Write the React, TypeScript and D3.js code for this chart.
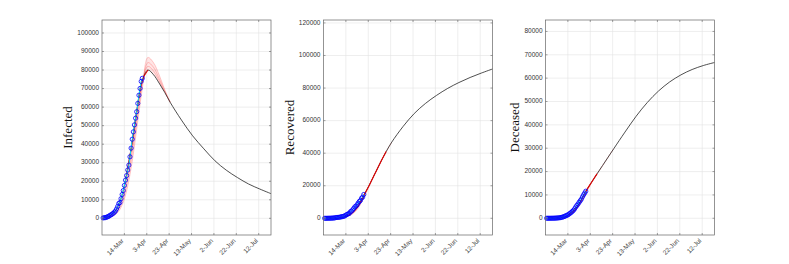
import React from "react";
import * as d3 from "d3";

// observed daily values, starting 24-Feb
const obsStart = "2020-02-24";
const infectedObs = [
  221, 311, 385, 588, 821, 1049, 1577, 1835, 2263, 2706, 3296, 3916, 5061, 6387, 7985, 8514, 10590, 12839,
  14955, 17750, 20603, 23073, 26062, 28710, 33190, 37860, 42681, 46638, 50418, 54030, 57521, 62013, 66414,
  70065, 73880, 75528,
];
const recoveredObs = [
  1, 1, 3, 45, 46, 50, 83, 149, 160, 276, 414, 523, 589, 622, 724, 1004, 1045, 1258, 1439, 1966, 2335, 2749,
  2941, 4025, 4440, 5129, 6072, 7024, 7432, 8326, 9362, 10361, 10950, 12384, 13030, 14620,
];
const deceasedObs = [
  7, 10, 12, 17, 21, 29, 34, 52, 79, 107, 148, 197, 233, 366, 463, 631, 827, 1016, 1266, 1441, 1809, 2158,
  2503, 2978, 3405, 4032, 4825, 5476, 6077, 6820, 7503, 8165, 9134, 10023, 10779, 11591,
];

// model curves
const modelDates = [
  "2020-02-24", "2020-02-29", "2020-03-05", "2020-03-10", "2020-03-15", "2020-03-20", "2020-03-25",
  "2020-03-30", "2020-04-04", "2020-04-09", "2020-04-14", "2020-04-19", "2020-04-24", "2020-05-04",
  "2020-05-14", "2020-05-24", "2020-06-03", "2020-06-13", "2020-06-23", "2020-07-03", "2020-07-13",
  "2020-07-23",
];
const infectedModel = [
  200, 1100, 3300, 9000, 20500, 37500, 57500, 74500, 80000, 77500, 73000, 68000, 62500, 53000, 44500, 37500,
  31000, 26000, 22000, 18500, 15800, 13300,
];
const recoveredModel = [
  0, 50, 200, 600, 1500, 3500, 7500, 14000, 20500, 27500, 34500, 41000, 46800, 56300, 64300, 70500, 75500,
  79800, 83400, 86500, 89200, 91700,
];
const deceasedModel = [
  5, 30, 120, 500, 1500, 3600, 7000, 11500, 15300, 19000, 22600, 26200, 29800, 36900, 43700, 49600, 54500,
  58400, 61400, 63700, 65400, 66700,
];

// uncertainty runs, 24-Feb .. 24-Apr
const ensDates = modelDates.slice(0, 13);
const infectedEnsA = [100, 500, 1600, 4800, 12500, 27000, 48000, 70000, 86800, 84000, 77500, 69500, 62500];
const infectedEnsB = [150, 700, 2200, 6300, 15500, 31500, 52500, 72500, 84000, 81500, 75500, 68800, 62500];
const infectedEnsC = [180, 900, 2800, 7600, 18000, 34500, 55000, 73500, 82000, 79500, 74200, 68300, 62500];
const recoveredEnsLow = [0, 30, 150, 450, 1100, 2700, 6200, 12500, 19800, 27000, 34200, 40800, 46800];
const deceasedEnsLow = [3, 20, 80, 350, 1100, 2900, 6000, 10500, 15000, 18800, 22500, 26200, 29800];

const xTickLabels = ["14-Mar", "3-Apr", "23-Apr", "13-May", "2-Jun", "22-Jun", "12-Jul"];
const infectedTicks = [0, 10000, 20000, 30000, 40000, 50000, 60000, 70000, 80000, 90000, 100000];
const recoveredTicks = [0, 20000, 40000, 60000, 80000, 100000, 120000];
const deceasedTicks = [0, 10000, 20000, 30000, 40000, 50000, 60000, 70000, 80000];

const parseDay = d3.timeParse("%Y-%m-%d");
const parseTick = d3.timeParse("%d-%b-%Y");
const xStart = parseDay("2020-02-23")!;
const xEnd = parseDay("2020-07-23")!;
const fitFrom = parseDay("2020-03-15")!;

const W = 789;
const H = 264;
const top = 20;
const bottom = 235;
const plotW = 169;

type Pt = [Date, number];
const zip = (dates: string[], vals: number[]): Pt[] => vals.map((v, i) => [parseDay(dates[i])!, v]);
const obsPts = (vals: number[]): Pt[] => vals.map((v, i) => [d3.timeDay.offset(parseDay(obsStart)!, i), v]);

function Panel({ left, label, labelX, yDomain, yTicks, model, obs, ens, fitTo }: any) {
  const right = left + plotW;
  const x = d3.scaleTime().domain([xStart, xEnd]).range([left, right]);
  const y = d3.scaleLinear().domain(yDomain).range([bottom, top]);
  const xTicks = xTickLabels.map((t) => parseTick(t + "-2020")!);
  const line = d3
    .line<Pt>()
    .x((d) => x(d[0]))
    .y((d) => y(d[1]))
    .curve(d3.curveCatmullRom.alpha(0.5));
  const straight = d3
    .line<Pt>()
    .x((d) => x(d[0]))
    .y((d) => y(d[1]));
  const modelPts = zip(modelDates, model);
  const fitEnd = parseDay(fitTo)!;
  const fitPts = modelPts.filter((d) => d[0] >= fitFrom && d[0] <= fitEnd);
  const obsData = obsPts(obs);
  const ensLines: Pt[][] = ens.map((e: number[]) => zip(ensDates, e));
  const band = d3
    .area<[Pt, Pt]>()
    .x((d) => x(d[0][0]))
    .y0((d) => y(d[0][1]))
    .y1((d) => y(d[1][1]))
    .curve(d3.curveMonotoneX);
  const bandPts: [Pt, Pt][] = ensLines[0].map((p, i) => [p, modelPts[i]]);
  const fmt = d3.timeFormat("%-d-%b");

  return (
    <g>
      {xTicks.map((t, i) => (
        <line key={"gx" + i} x1={x(t)} x2={x(t)} y1={top} y2={bottom} stroke="#e2e2e2" strokeWidth={0.6} />
      ))}
      {yTicks.map((t: number) => (
        <line key={"gy" + t} x1={left} x2={right} y1={y(t)} y2={y(t)} stroke="#e2e2e2" strokeWidth={0.6} />
      ))}
      <path d={band(bandPts) ?? ""} fill="#ff0000" fillOpacity={0.1} />
      {ensLines.map((e, i) => (
        <path key={"e" + i} d={line(e) ?? ""} fill="none" stroke="#ff0000" strokeOpacity={0.3} strokeWidth={0.7} />
      ))}
      <path d={line(modelPts) ?? ""} fill="none" stroke="#222" strokeWidth={0.8} />
      <path d={line(fitPts) ?? ""} fill="none" stroke="#e00000" strokeWidth={1.1} />
      <path d={straight(obsData) ?? ""} fill="none" stroke="#00e5ff" strokeWidth={1} />
      {obsData.map((d, i) => (
        <circle key={"o" + i} cx={x(d[0])} cy={y(d[1])} r={2.1} fill="none" stroke="#0000ff" strokeWidth={0.8} />
      ))}
      <rect x={left} y={top} width={plotW} height={bottom - top} fill="none" stroke="#666" strokeWidth={0.7} />
      {xTicks.map((t, i) => (
        <g key={"tx" + i}>
          <line x1={x(t)} x2={x(t)} y1={bottom} y2={bottom - 2} stroke="#666" strokeWidth={0.6} />
          <line x1={x(t)} x2={x(t)} y1={top} y2={top + 2} stroke="#666" strokeWidth={0.6} />
          <text
            transform={`translate(${x(t) - 1.5},${bottom + 5}) rotate(-45)`}
            textAnchor="end"
            dominantBaseline="middle"
            fontSize={6.5}
            fill="#444"
          >
            {fmt(t)}
          </text>
        </g>
      ))}
      {yTicks.map((t: number) => (
        <g key={"ty" + t}>
          <line x1={left} x2={left + 2} y1={y(t)} y2={y(t)} stroke="#666" strokeWidth={0.6} />
          <line x1={right} x2={right - 2} y1={y(t)} y2={y(t)} stroke="#666" strokeWidth={0.6} />
          <text x={left - 3} y={y(t)} textAnchor="end" dominantBaseline="middle" fontSize={6.5} fill="#333">
            {t}
          </text>
        </g>
      ))}
      <text
        transform={`translate(${labelX},${(top + bottom) / 2}) rotate(-90)`}
        textAnchor="middle"
        fontFamily="'Liberation Serif', 'DejaVu Serif', serif"
        fontSize={13}
        fill="#111"
      >
        {label}
      </text>
    </g>
  );
}

export default function App() {
  return (
    <div>
      <style>{`body{margin:0}`}</style>
      <svg width={W} height={H} fontFamily="'Liberation Sans', Arial, sans-serif" style={{ display: "block" }}>
        <rect width={W} height={H} fill="#fff" />
        <Panel
          left={102}
          label="Infected"
          labelX={72}
          yDomain={[-9000, 107000]}
          yTicks={infectedTicks}
          model={infectedModel}
          obs={infectedObs}
          ens={[infectedEnsA, infectedEnsB, infectedEnsC]}
          fitTo="2020-04-04"
        />
        <Panel
          left={323.5}
          label="Recovered"
          labelX={293.5}
          yDomain={[-10260, 121800]}
          yTicks={recoveredTicks}
          model={recoveredModel}
          obs={recoveredObs}
          ens={[recoveredEnsLow]}
          fitTo="2020-04-19"
        />
        <Panel
          left={545.5}
          label="Deceased"
          labelX={518.5}
          yDomain={[-7160, 84900]}
          yTicks={deceasedTicks}
          model={deceasedModel}
          obs={deceasedObs}
          ens={[deceasedEnsLow]}
          fitTo="2020-04-09"
        />
      </svg>
    </div>
  );
}
